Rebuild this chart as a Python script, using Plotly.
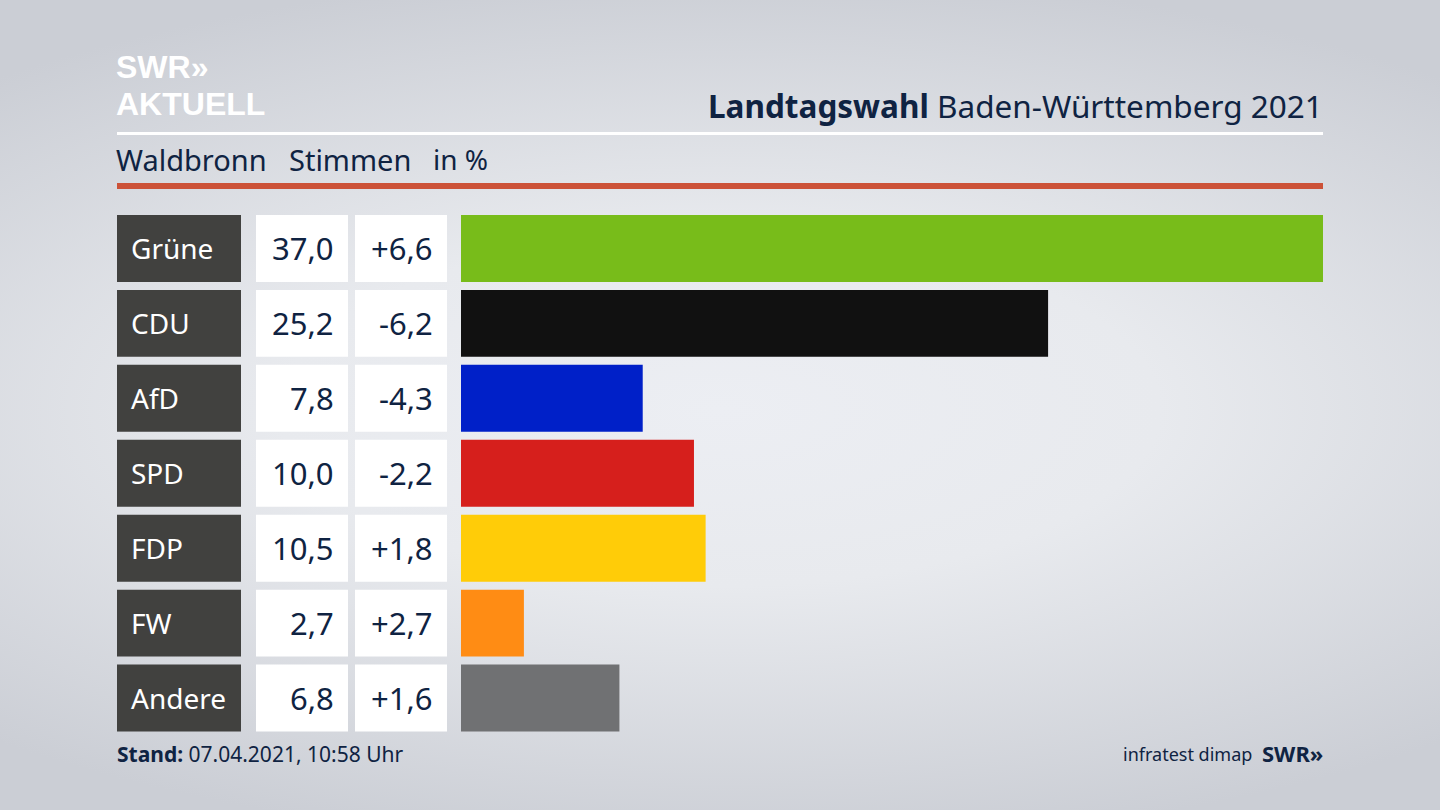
import base64
import plotly.graph_objects as go

# Landtagswahl BW 2021, Waldbronn
parties = ['Grüne', 'CDU', 'AfD', 'SPD', 'FDP', 'FW', 'Andere']
stimmen = [37.0, 25.2, 7.8, 10.0, 10.5, 2.7, 6.8]
stimmen_labels = ['37,0', '25,2', '7,8', '10,0', '10,5', '2,7', '6,8']
diff_labels = ['+6,6', '-6,2', '-4,3', '-2,2', '+1,8', '+2,7', '+1,6']
bar_colors = ['#78bc1a', '#111111', '#0020c8', '#d61f1c', '#ffcc08', '#ff8c14', '#707173']

W, H = 1440, 810
NAVY = '#0f2342'
SANS = 'Noto Sans, Open Sans, sans-serif'
LOGO = 'Liberation Sans, sans-serif'


def px(x):
    return x / W


def py(y):
    return 1 - y / H


# background, light in the middle and grey towards the edges
bg_svg = (
    '<svg xmlns="http://www.w3.org/2000/svg" width="1440" height="810">'
    '<defs><radialGradient id="g" gradientUnits="userSpaceOnUse" cx="0" cy="0" r="1" '
    'gradientTransform="translate(720 410) scale(1100 440)">'
    '<stop offset="0%" stop-color="#eceef3"/>'
    '<stop offset="40%" stop-color="#e8eaee"/>'
    '<stop offset="100%" stop-color="#cbced5"/>'
    '</radialGradient></defs>'
    '<rect width="1440" height="810" fill="url(#g)"/></svg>'
)
bg_uri = 'data:image/svg+xml;base64,' + base64.b64encode(bg_svg.encode()).decode()

fig = go.Figure()

# one full width bar per cell for the three table columns
for axis, color in [('x', '#41413f'), ('x2', '#ffffff'), ('x3', '#ffffff')]:
    fig.add_trace(go.Bar(x=[1] * len(parties), y=parties, orientation='h', xaxis=axis, yaxis='y',
                         marker=dict(color=color, line_width=0), hoverinfo='skip', showlegend=False))

fig.add_trace(go.Bar(x=stimmen, y=parties, orientation='h', xaxis='x4', yaxis='y',
                     marker=dict(color=bar_colors, line_width=0), showlegend=False))

annotations = []
for i, party in enumerate(parties):
    annotations.append(dict(x=0.097, y=party, xref='x', yref='y', text=party, xanchor='left', showarrow=False,
                            font=dict(family=SANS, size=28, color='#ffffff')))
    annotations.append(dict(x=0.87, y=party, xref='x2', yref='y', text=stimmen_labels[i], xanchor='right',
                            showarrow=False, font=dict(family=SANS, size=31, color=NAVY)))
    annotations.append(dict(x=0.87, y=party, xref='x3', yref='y', text=diff_labels[i], xanchor='right',
                            showarrow=False, font=dict(family=SANS, size=31, color=NAVY)))


def label(x, y, text, size, anchor='left', color=NAVY, family=SANS):
    annotations.append(dict(x=px(x), y=py(y), xref='paper', yref='paper', text=text, xanchor=anchor,
                            yanchor='middle', showarrow=False,
                            font=dict(family=family, size=size, color=color),
                            borderpad=0, borderwidth=0))


label(1323, 105, '<b>Landtagswahl</b> Baden-Württemberg 2021', 31.5, 'right')
label(116, 159, 'Waldbronn', 29)
label(289, 159, 'Stimmen', 29)
label(433, 159, 'in %', 28)
label(116, 67, '<b>SWR»</b>', 32, color='#ffffff', family=LOGO)
label(116, 104, '<b>AKTUELL</b>', 32, color='#ffffff', family=LOGO)
label(117, 754, '<b>Stand:</b> 07.04.2021, 10:58 Uhr', 21)
label(1252, 754, 'infratest dimap', 18, 'right')
label(1323, 753, '<b>SWR»</b>', 22, 'right')

fig.update_layout(
    width=W, height=H,
    margin=dict(l=0, r=0, t=0, b=0),
    paper_bgcolor='rgba(0,0,0,0)',
    plot_bgcolor='rgba(0,0,0,0)',
    bargap=0.107,
    annotations=annotations,
    images=[dict(source=bg_uri, xref='paper', yref='paper', x=0, y=1, sizex=1, sizey=1,
                 xanchor='left', yanchor='top', sizing='stretch', layer='below')],
    shapes=[
        dict(type='rect', xref='paper', yref='paper', x0=px(117), x1=px(1323), y0=py(135), y1=py(132),
             fillcolor='#ffffff', line_width=0),
        dict(type='rect', xref='paper', yref='paper', x0=px(117), x1=px(1323), y0=py(189), y1=py(183),
             fillcolor='#cc5238', line_width=0),
    ],
    yaxis=dict(domain=[py(735.5), py(211)], autorange='reversed', visible=False, fixedrange=True),
    xaxis=dict(domain=[px(117), px(241)], range=[0, 1], visible=False, fixedrange=True),
    xaxis2=dict(domain=[px(256), px(348)], range=[0, 1], visible=False, fixedrange=True),
    xaxis3=dict(domain=[px(355), px(447)], range=[0, 1], visible=False, fixedrange=True),
    xaxis4=dict(domain=[px(461), px(1323)], range=[0, 37], visible=False, fixedrange=True),
)

fig.write_html("out.html", config={'displayModeBar': False},
               post_script="document.body.style.margin='0';document.body.style.overflow='hidden';")
